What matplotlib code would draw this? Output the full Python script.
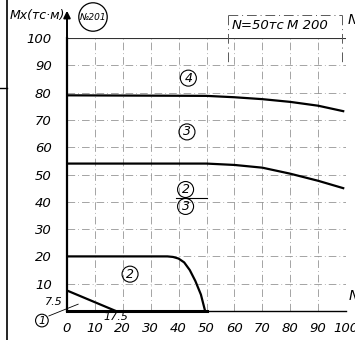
import matplotlib.pyplot as plt
from matplotlib.lines import Line2D

plt.rcParams['font.family'] = ['Liberation Sans Narrow', 'DejaVu Sans']
plt.rcParams['font.style'] = 'italic'

# curves (x = N-ish abscissa, y = Mx in тс·м)
c1_x = [0, 17.5]
c1_y = [7.5, 0]
c2_x = [0, 36, 38, 40, 42, 44, 46, 48, 49.5]
c2_y = [20, 20, 19.8, 19.2, 17.8, 15.0, 11.0, 6.0, 0]
c3_x = [0, 50, 60, 70, 80, 90, 99]
c3_y = [54, 54, 53.5, 52.5, 50.3, 47.7, 45]
c4_x = [0, 50, 60, 70, 80, 90, 99]
c4_y = [79, 78.8, 78.3, 77.6, 76.6, 75.2, 73.2]

xticks = [0, 10, 20, 30, 40, 50, 60, 70, 80, 90, 100]
yticks = [10, 20, 30, 40, 50, 60, 70, 80, 90, 100]

fig = plt.figure(figsize=(3.55, 3.4), dpi=100)
ax = fig.add_axes([67 / 355, 29 / 340, 279 / 355, 273 / 340])
ax.set_xlim(0, 100)
ax.set_ylim(0, 100)

grid = dict(color='0.55', lw=0.55, ls=(0, (10, 4, 1, 4)))
for x in xticks[1:]:
    ax.axvline(x, **grid)
for y in yticks[:-1]:
    ax.axhline(y, **grid)
ax.axhline(100, color='0.2', lw=0.8)

ax.plot(c1_x, c1_y, color='k', lw=1.6)
ax.plot(c2_x, c2_y, color='k', lw=1.6)
ax.plot(c3_x, c3_y, color='k', lw=1.6)
ax.plot(c4_x, c4_y, color='k', lw=1.6)
ax.plot([0, 50], [0, 0], color='k', lw=2.2, clip_on=False)

for s in ['top', 'right']:
    ax.spines[s].set_visible(False)
ax.spines['left'].set_linewidth(1.6)
ax.spines['bottom'].set_linewidth(1.0)
ax.tick_params(length=0, labelsize=9.5)
ax.set_xticks(xticks)
ax.set_yticks(yticks)
ax.tick_params(axis='x', pad=8)
ax.tick_params(axis='y', pad=11)
ax.text(-1.5, 3.3, '7.5', ha='right', va='center', fontsize=8)
ax.text(17.5, -0.5, '17.5', ha='center', va='top', fontsize=8, clip_on=False)

# axis arrow and title
ax.annotate('', xy=(0, 111), xytext=(0, 99), xycoords='data',
            arrowprops=dict(arrowstyle='-|>', color='k', lw=1.4), annotation_clip=False)
fig.text(10 / 355, 1 - 16 / 340, 'Mx(тс·м)', fontsize=9, va='center', ha='left')
fig.text(93 / 355, 1 - 17 / 340, '№201', fontsize=6.5, va='center', ha='center',
         bbox=dict(boxstyle='circle,pad=0.1', fc='none', ec='k', lw=0.9))

# header box
box = dict(color='0.35', lw=0.7, ls=(0, (10, 4, 1, 4)), clip_on=False)
ax.plot([57.7, 98.6], [108.5, 108.5], **box)
ax.plot([57.7, 57.7], [108.5, 90], **box)
ax.plot([98.6, 98.6], [108.5, 90], **box)
ax.text(68.5, 104.5, 'N=50тс', fontsize=9.5, ha='center', va='center')
ax.text(86, 104.5, 'M 200', fontsize=9.5, ha='center', va='center')

# region labels
circ = dict(boxstyle='circle,pad=0.12', fc='none', ec='k', lw=0.8)
ax.text(43.5, 85.3, '4', fontsize=9, ha='center', va='center', bbox=circ)
ax.text(43, 65.6, '3', fontsize=9, ha='center', va='center', bbox=circ)
ax.text(42.5, 44.5, '2', fontsize=9, ha='center', va='center', bbox=circ)
ax.text(42.5, 38.3, '3', fontsize=9, ha='center', va='center', bbox=circ)
ax.plot([39, 50], [41.4, 41.4], color='k', lw=0.8)
ax.text(22.6, 13.5, '2', fontsize=9, ha='center', va='center', bbox=circ)
ax.text(-9, -3.5, '1', fontsize=8, ha='center', va='center', bbox=circ, clip_on=False)
ax.plot([-6.5, 4], [-1.8, 2.5], color='k', lw=0.6, clip_on=False)

# cut-off letters at the right edge and page border on the left
fig.text(348 / 355, 1 - 20 / 340, 'N', fontsize=10, va='center', ha='left')
fig.text(349 / 355, 1 - 296 / 340, 'N', fontsize=10, va='center', ha='left')
fig.add_artist(Line2D([7 / 355, 7 / 355], [0, 1], color='k', lw=1.2))
fig.add_artist(Line2D([0, 7 / 355], [1 - 88 / 340, 1 - 88 / 340], color='k', lw=1.0))

fig.savefig('out.png', dpi=100, facecolor='white')
